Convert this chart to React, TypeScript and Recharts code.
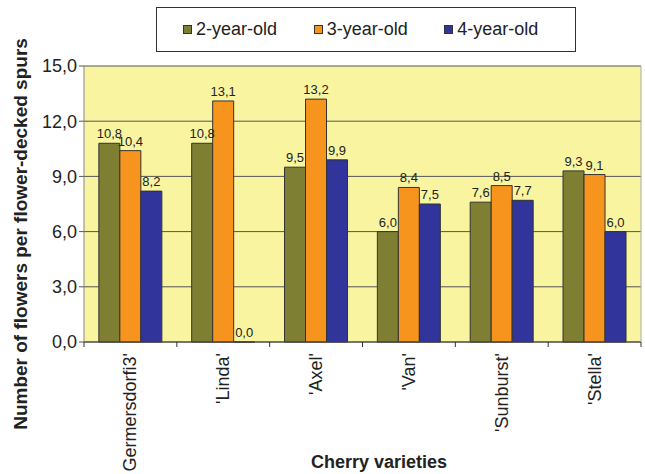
import React from 'react';
import { BarChart, Bar, XAxis, YAxis, CartesianGrid, LabelList, Label } from 'recharts';

const varieties = ["Germersdorfi3'", "'Linda'", "'Axel'", "'Van'", "'Sunburst'", "'Stella'"];
const twoYear = [10.8, 10.8, 9.5, 6.0, 7.6, 9.3];
const threeYear = [10.4, 13.1, 13.2, 8.4, 8.5, 9.1];
const fourYear = [8.2, 0.0, 9.9, 7.5, 7.7, 6.0];
const yTicks = [0, 3, 6, 9, 12, 15];

const series = [
  { key: 'two', name: '2-year-old', color: '#7f7f33', values: twoYear },
  { key: 'three', name: '3-year-old', color: '#f7941d', values: threeYear },
  { key: 'four', name: '4-year-old', color: '#31349a', values: fourYear },
];

const data = varieties.map((v, i) => ({
  variety: v,
  two: twoYear[i],
  three: threeYear[i],
  four: fourYear[i],
}));

const FONT = '"Liberation Sans", Arial, Helvetica, sans-serif';
const fmt = (v: number) => v.toFixed(1).replace('.', ',');

const XTick = (props: any) => {
  const { x, y, payload, index } = props;
  const half = 557 / 6 / 2;
  return (
    <g>
      <line x1={x + half} y1={y - 8} x2={x + half} y2={y - 3} stroke="#333" />
      {index === 0 && <line x1={x - half} y1={y - 8} x2={x - half} y2={y - 3} stroke="#333" />}
      <text
        x={x}
        y={y + 3}
        transform={`rotate(-90 ${x} ${y + 3})`}
        textAnchor="end"
        dominantBaseline="central"
        fontSize={18}
        fill="#222"
        fontFamily={FONT}
      >
        {payload.value}
      </text>
    </g>
  );
};

const App = () => {
  return (
    <div style={{ position: 'absolute', left: 0, top: 0, width: 645, height: 474, background: '#fff', fontFamily: FONT }}>
      <div
        style={{
          position: 'absolute',
          left: 156,
          top: 7,
          width: 420,
          height: 45,
          border: '1px solid #333',
          boxSizing: 'border-box',
          display: 'flex',
          alignItems: 'center',
          paddingLeft: 26,
          fontSize: 18,
          color: '#222',
        }}
      >
        {series.map((s) => (
          <div key={s.key} style={{ display: 'flex', alignItems: 'center', width: 140 }}>
            <span style={{ display: 'inline-block', width: 7, height: 7, background: s.color, border: '1px solid #333', marginRight: 4 }} />
            {s.name}
          </div>
        ))}
      </div>
      <BarChart
        width={645}
        height={474}
        data={data}
        margin={{ top: 66, right: 3, bottom: 32, left: 8 }}
        barGap={0}
        barCategoryGap="16%"
      >
        <CartesianGrid vertical={false} stroke="#555" fill="#f8f4a0" />
        <XAxis xAxisId="t" orientation="top" dataKey="variety" height={0} tick={false} tickLine={false} axisLine={{ stroke: '#b5b5a0' }} />
        <XAxis
          dataKey="variety"
          interval={0}
          height={100}
          tick={<XTick />}
          tickLine={false}
          axisLine={{ stroke: '#444' }}
        >
          <Label
            content={() => (
              <text x={379} y={468} textAnchor="middle" fontSize={18} fontWeight="bold" fill="#222" fontFamily={FONT}>
                Cherry varieties
              </text>
            )}
          />
        </XAxis>
        <YAxis
          domain={[0, 15]}
          ticks={yTicks}
          width={76}
          tickFormatter={fmt}
          tick={{ fontSize: 18, fill: '#222', fontFamily: FONT }}
          tickLine={{ stroke: '#555' }}
          tickSize={5}
          axisLine={{ stroke: '#888' }}
        >
          <Label
            content={() => (
              <text
                x={20}
                y={234}
                transform="rotate(-90 20 234)"
                textAnchor="middle"
                dominantBaseline="central"
                fontSize={19}
                fontWeight="bold"
                fill="#222"
                fontFamily={FONT}
              >
                Number of flowers per flower-decked spurs
              </text>
            )}
          />
        </YAxis>
        <YAxis yAxisId="r" orientation="right" width={1} tick={false} tickLine={false} axisLine={{ stroke: '#aaa' }} domain={[0, 15]} />
        {series.map((s) => (
          <Bar
            key={s.key}
            dataKey={s.key}
            name={s.name}
            fill={s.color}
            stroke="#333"
            strokeWidth={1}
            minPointSize={(v: any) => (v === 0 ? 0.01 : 0)}
            isAnimationActive={false}
          >
            <LabelList dataKey={s.key} position="top" offset={5} formatter={(v: any) => fmt(Number(v))} style={{ fontSize: 13, fill: '#222', fontFamily: FONT }} />
          </Bar>
        ))}
      </BarChart>
    </div>
  );
};

export default App;
